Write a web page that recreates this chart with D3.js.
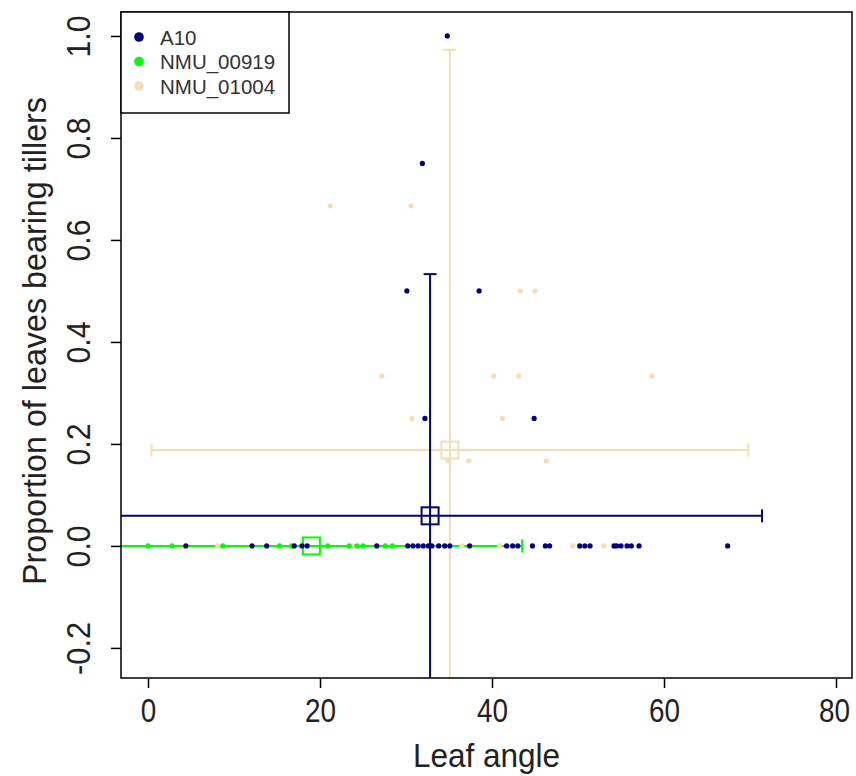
<!DOCTYPE html>
<html>
<head>
<meta charset="utf-8">
<script src="https://cdn.jsdelivr.net/npm/d3@7"></script>
<style>
body { margin: 0; background: #fff; }
svg { font-family: "Liberation Sans", Arial, sans-serif; }
</style>
</head>
<body>
<svg id="chart" width="856" height="776"></svg>
<script>
// groups, colours
const groups = ['A10', 'NMU_00919', 'NMU_01004'];
const colors = ['#000080', '#00ff00', '#f5deb3'];

// raw points: leaf angle / proportion of leaves bearing tillers
const a10Angle = [34.8, 31.9, 30.1, 38.5, 32.2, 44.9,
    4.4, 12.1, 13.8, 17.0, 17.9, 18.5, 26.6, 30.2, 30.8, 31.4, 32.0, 32.6, 33.0,
    33.8, 34.5, 35.1, 37.4, 41.7, 42.4, 43.0, 44.7, 46.2, 46.7, 50.2, 50.8, 51.4,
    54.2, 54.5, 55.0, 55.7, 56.2, 57.1, 67.4];
const a10Prop = [1.0, 0.75, 0.5, 0.5, 0.25, 0.25,
    0, 0, 0, 0, 0, 0, 0, 0, 0, 0, 0, 0, 0,
    0, 0, 0, 0, 0, 0, 0, 0, 0, 0, 0, 0, 0,
    0, 0, 0, 0, 0, 0, 0];

const n919Angle = [0, 2.8, 8.7, 15.3, 16.7, 20.9, 23.4, 24.3, 25.0, 27.6, 28.4];
const n919Prop = [0, 0, 0, 0, 0, 0, 0, 0, 0, 0, 0];

const n1004Angle = [21.2, 30.6, 43.3, 45.0, 27.2, 40.2, 43.1, 58.6, 30.7, 41.2,
    37.3, 46.3, 34.9, 8.1, 23.8, 36.5, 40.9, 49.4, 53.0, 54.1];
const n1004Prop = [0.667, 0.667, 0.5, 0.5, 0.333, 0.333, 0.333, 0.333, 0.25, 0.25,
    0.167, 0.167, 0.167, 0, 0, 0, 0, 0, 0, 0];

// group means and error half-widths
const meanAngle = [32.8, 19.0, 35.1];
const meanProp = [0.059, 0, 0.188];
const errAngle = [38.6, 24.5, 34.7];
const errProp = [0.474, 0, 0.785];

const xTicks = [0, 20, 40, 60, 80];
const yTicks = [-0.2, 0, 0.2, 0.4, 0.6, 0.8, 1.0];

const svg = d3.select('#chart');
const m = {left: 121, right: 852, top: 12, bottom: 678};
const fontFam = '"Liberation Sans", Arial, sans-serif';

const x = d3.scaleLinear().domain([-3.14, 81.86]).range([m.left, m.right]);
const y = d3.scaleLinear().domain([-0.259, 1.047]).range([m.bottom, m.top]);

svg.append('clipPath').attr('id', 'clip')
    .append('rect')
    .attr('x', m.left).attr('y', m.top)
    .attr('width', m.right - m.left).attr('height', m.bottom - m.top);

const plot = svg.append('g').attr('clip-path', 'url(#clip)');

// error bars: green first, then wheat, then navy
const cap = 6.5;
[1, 2, 0].forEach(i => {
    const g = plot.append('g')
        .attr('stroke', colors[i])
        .attr('stroke-width', 2)
        .attr('fill', 'none');
    const cx = x(meanAngle[i]), cy = y(meanProp[i]);
    const x0 = x(meanAngle[i] - errAngle[i]), x1 = x(meanAngle[i] + errAngle[i]);
    g.append('line').attr('x1', x0).attr('x2', x1).attr('y1', cy).attr('y2', cy);
    [x0, x1].forEach(v => {
        g.append('line').attr('x1', v).attr('x2', v).attr('y1', cy - cap).attr('y2', cy + cap);
    });
    if (errProp[i] > 0) {
        const y0 = y(meanProp[i] - errProp[i]), y1 = y(meanProp[i] + errProp[i]);
        g.append('line').attr('x1', cx).attr('x2', cx).attr('y1', y0).attr('y2', y1);
        [y0, y1].forEach(v => {
            g.append('line').attr('x1', cx - cap).attr('x2', cx + cap).attr('y1', v).attr('y2', v);
        });
    }
    g.append('rect')
        .attr('x', cx - 8.5).attr('y', cy - 8.5)
        .attr('width', 17).attr('height', 17);
});

// points
const pts = [
    [a10Angle, a10Prop],
    [n919Angle, n919Prop],
    [n1004Angle, n1004Prop]
];
[2, 1, 0].forEach(i => {
    plot.append('g').selectAll('circle')
        .data(d3.zip(pts[i][0], pts[i][1]))
        .enter()
        .append('circle')
        .attr('cx', d => x(d[0]))
        .attr('cy', d => y(d[1]))
        .attr('r', 2.6)
        .attr('fill', colors[i]);
});

// axes
const ax = svg.append('g')
    .attr('transform', 'translate(0,' + m.bottom + ')')
    .call(d3.axisBottom(x).tickValues(xTicks).tickSize(10).tickPadding(10).tickFormat(d3.format('d')));
ax.select('.domain').remove();
ax.selectAll('line').attr('stroke', '#000').attr('stroke-width', 1.5);
ax.selectAll('text')
    .attr('font-size', 34).attr('fill', '#222')
    .attr('font-family', fontFam)
    .attr('textLength', d => String(d).length * 15.5)
    .attr('lengthAdjust', 'spacingAndGlyphs');
// keep the last label inside the page
ax.selectAll('text').filter(d => d === 80).attr('x', -2);

const ay = svg.append('g')
    .attr('transform', 'translate(' + m.left + ',0)')
    .call(d3.axisLeft(y).tickValues(yTicks).tickSize(10)
        .tickFormat(d => d3.format('.1f')(d).replace('\u2212', '-')));
ay.select('.domain').remove();
ay.selectAll('line').attr('stroke', '#000').attr('stroke-width', 1.5);
ay.selectAll('text')
    .attr('font-size', 34).attr('fill', '#222')
    .attr('font-family', fontFam)
    .attr('x', 0).attr('dy', 0)
    .attr('text-anchor', 'middle')
    .attr('transform', 'translate(-31,0) rotate(-90)')
    .attr('textLength', d => (d < 0 ? 53 : 42))
    .attr('lengthAdjust', 'spacingAndGlyphs');

// plot frame
svg.append('rect')
    .attr('x', m.left).attr('y', m.top)
    .attr('width', m.right - m.left).attr('height', m.bottom - m.top)
    .attr('fill', 'none').attr('stroke', '#000').attr('stroke-width', 1.5);

// axis titles
svg.append('text')
    .attr('x', (m.left + m.right) / 2).attr('y', 767)
    .attr('text-anchor', 'middle')
    .attr('font-size', 34).attr('fill', '#222')
    .attr('textLength', 147).attr('lengthAdjust', 'spacingAndGlyphs')
    .text('Leaf angle');

svg.append('text')
    .attr('transform', 'translate(46,' + 341 + ') rotate(-90)')
    .attr('text-anchor', 'middle')
    .attr('font-size', 34).attr('fill', '#222')
    .attr('textLength', 488).attr('lengthAdjust', 'spacingAndGlyphs')
    .text('Proportion of leaves bearing tillers');

// legend
const lg = svg.append('g');
lg.append('rect')
    .attr('x', m.left).attr('y', m.top)
    .attr('width', 168).attr('height', 101)
    .attr('fill', '#fff').attr('stroke', '#000').attr('stroke-width', 1.5);
groups.forEach((name, i) => {
    const ly = 37 + i * 24.5;
    lg.append('circle')
        .attr('cx', 139).attr('cy', ly).attr('r', 4.8)
        .attr('fill', colors[i]);
    lg.append('text')
        .attr('x', 160).attr('y', ly + 7.5)
        .attr('font-size', 20.5).attr('fill', '#333')
        .text(name);
});
</script>
</body>
</html>
